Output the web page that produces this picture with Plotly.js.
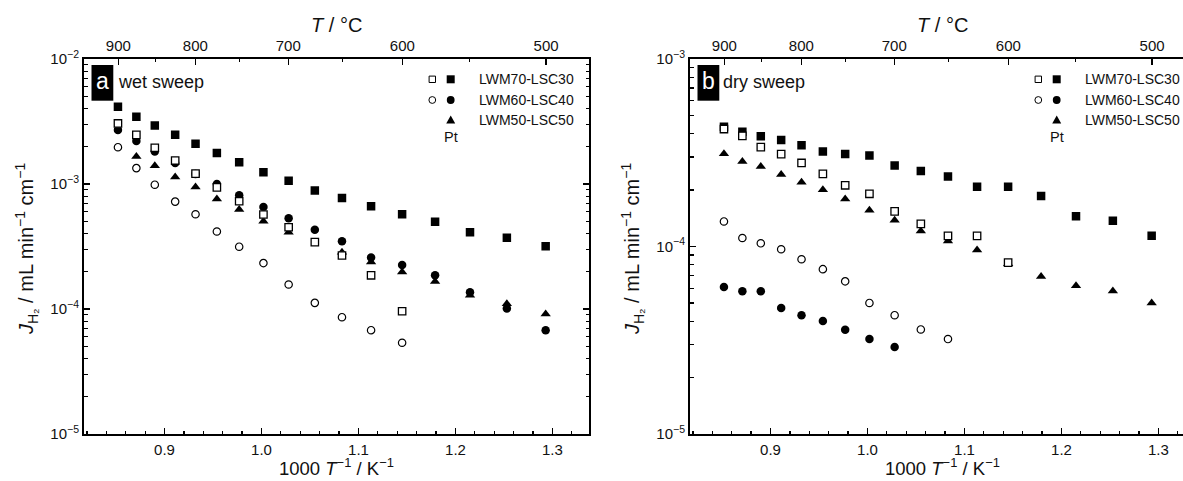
<!DOCTYPE html>
<html><head><meta charset="utf-8">
<script src="https://cdn.plot.ly/plotly-3.0.1.min.js"></script>
<style>html,body{margin:0;padding:0;overflow:hidden;background:#fff}#chart{width:1200px;height:481px}</style>
</head><body><div id="chart"></div><script>
// 1000/T (K^-1) of the measurement temperatures 900 ... 500 °C
const invT = [0.852, 0.871, 0.890, 0.911, 0.932, 0.954, 0.977, 1.002, 1.028, 1.055, 1.083, 1.113, 1.145, 1.179, 1.215, 1.253, 1.293];
const xTickVals = [0.9, 1.0, 1.1, 1.2, 1.3];
const tempLabels = [900, 800, 700, 600, 500];
const tempMinor = [850, 750, 650, 550];
const seriesNames = ['LWM70-LSC30', 'LWM60-LSC40', 'LWM50-LSC50'];

// (a) wet sweep
const wet70Filled = [4.14e-3, 3.45e-3, 2.94e-3, 2.48e-3, 2.10e-3, 1.77e-3, 1.49e-3, 1.24e-3, 1.06e-3, 8.89e-4, 7.74e-4, 6.64e-4, 5.73e-4, 4.99e-4, 4.12e-4, 3.72e-4, 3.17e-4];
const wet70Open = [3.05e-3, 2.47e-3, 1.95e-3, 1.54e-3, 1.21e-3, 9.40e-4, 7.28e-4, 5.70e-4, 4.51e-4, 3.43e-4, 2.68e-4, 1.86e-4, 9.59e-5];
const wet60Filled = [2.70e-3, 2.21e-3, 1.82e-3, 1.47e-3, 1.20e-3, 1.00e-3, 8.12e-4, 6.56e-4, 5.32e-4, 4.31e-4, 3.49e-4, 2.58e-4, 2.25e-4, 1.86e-4, 1.36e-4, 1.01e-4, 6.77e-5];
const wet60Open = [1.97e-3, 1.34e-3, 9.87e-4, 7.23e-4, 5.73e-4, 4.17e-4, 3.15e-4, 2.33e-4, 1.57e-4, 1.12e-4, 8.60e-5, 6.77e-5, 5.37e-5];
const wet50Pt = [null, 1.66e-3, 1.40e-3, 1.14e-3, 9.47e-4, 7.60e-4, 6.25e-4, 5.04e-4, 4.11e-4, null, 2.85e-4, 2.38e-4, 1.98e-4, 1.66e-4, 1.29e-4, 1.10e-4, 9.12e-5];

// (b) dry sweep
const dry70Filled = [4.35e-4, 4.09e-4, 3.87e-4, 3.70e-4, 3.47e-4, 3.21e-4, 3.11e-4, 3.06e-4, 2.70e-4, 2.53e-4, 2.36e-4, 2.08e-4, 2.08e-4, 1.86e-4, 1.45e-4, 1.37e-4, 1.14e-4];
const dry70Open = [4.23e-4, 3.89e-4, 3.39e-4, 3.11e-4, 2.79e-4, 2.44e-4, 2.12e-4, 1.91e-4, 1.54e-4, 1.32e-4, 1.14e-4, 1.14e-4, 8.20e-5];
const dry60Filled = [6.08e-5, 5.78e-5, 5.78e-5, 4.70e-5, 4.30e-5, 4.00e-5, 3.60e-5, 3.21e-5, 2.91e-5];
const dry60Open = [1.36e-4, 1.11e-4, 1.04e-4, 9.67e-5, 8.55e-5, 7.57e-5, 6.52e-5, 5.00e-5, 4.30e-5, 3.61e-5, 3.21e-5];
const dry50Pt = [3.12e-4, 2.84e-4, 2.67e-4, 2.42e-4, 2.20e-4, 2.01e-4, 1.79e-4, 1.56e-4, 1.38e-4, 1.21e-4, 1.07e-4, 9.57e-5, 8.10e-5, 6.92e-5, 6.18e-5, 5.79e-5, 5.00e-5];

const FONT = 'Liberation Sans, Arial, Helvetica, sans-serif';
const W = 1200, H = 481, MT = 59, MB = 47;
const PH = H - MT - MB;
const px = v => v / W;
const py = v => (H - MB - v) / PH;

const STY = {
  sqF: {symbol: 'square', size: 8.5, color: '#000', line: {width: 0}},
  sqO: {symbol: 'square', size: 7.4, color: '#fff', line: {color: '#000', width: 1.3}},
  ciF: {symbol: 'circle', size: 8.5, color: '#000', line: {width: 0}},
  ciO: {symbol: 'circle', size: 7.4, color: '#fff', line: {color: '#000', width: 1.2}},
  tri: {symbol: 'triangle-up', size: 9, color: '#000', line: {width: 0}}
};
function tr(y, sty, xa, ya, name) {
  return {x: invT.slice(0, y.length), y: y, type: 'scatter', mode: 'markers', marker: sty,
          xaxis: xa, yaxis: ya, name: name, showlegend: false, hoverinfo: 'x+y'};
}
// invisible companions so that the top (temperature) axes get drawn
function ghost(y, xa, ya) {
  return {x: invT.slice(0, y.length), y: y, type: 'scatter', mode: 'markers', marker: {opacity: 0, size: 1},
          xaxis: xa, yaxis: ya, showlegend: false, hoverinfo: 'skip'};
}
const data = [
  ghost(wet70Filled, 'x2', 'y'),
  ghost(dry70Filled, 'x4', 'y2'),
  tr(wet70Filled, STY.sqF, 'x', 'y', seriesNames[0]),
  tr(wet60Filled, STY.ciF, 'x', 'y', seriesNames[1]),
  tr(wet50Pt, STY.tri, 'x', 'y', seriesNames[2]),
  tr(wet70Open, STY.sqO, 'x', 'y', seriesNames[0]),
  tr(wet60Open, STY.ciO, 'x', 'y', seriesNames[1]),
  tr(dry70Filled, STY.sqF, 'x3', 'y2', seriesNames[0]),
  tr(dry60Filled, STY.ciF, 'x3', 'y2', seriesNames[1]),
  tr(dry50Pt, STY.tri, 'x3', 'y2', seriesNames[2]),
  tr(dry70Open, STY.sqO, 'x3', 'y2', seriesNames[0]),
  tr(dry60Open, STY.ciO, 'x3', 'y2', seriesNames[1])
];

const xRange = [0.817, 1.338];
const minorX = [];
for (let v = 0.82; v < 1.335; v += 0.02) minorX.push(+v.toFixed(2));
function logMinor(lo, hi) {
  const out = [];
  for (let e = lo; e < hi; e++) for (let m = 2; m <= 9; m++) out.push(m * Math.pow(10, e));
  return out;
}
const tempPos = t => 1000 / (t + 273.15);
const tickFont = {family: FONT, size: 15, color: '#111'};

function bottomAxis(dom, anchor) {
  return {domain: dom, anchor: anchor, range: xRange, autorange: false, showline: true, linewidth: 2, linecolor: '#000',
    mirror: false, ticks: 'inside', ticklen: 6, tickwidth: 1.2, tickcolor: '#000', tickmode: 'array',
    tickvals: xTickVals, ticktext: xTickVals.map(v => v.toFixed(1)), tickfont: tickFont, showgrid: false, zeroline: false,
    ticklabelstandoff: 1,
    minor: {tickmode: 'array', tickvals: minorX, ticks: 'inside', ticklen: 3, tickwidth: 1.2, tickcolor: '#000', showgrid: false}};
}
function topAxis(over, anchor, dom) {
  return {overlaying: over, anchor: anchor, side: 'top', domain: dom, range: xRange, autorange: false, showline: true, linewidth: 2, linecolor: '#000',
    ticks: 'inside', ticklen: 6, tickwidth: 1.2, tickcolor: '#000', tickmode: 'array',
    tickvals: tempLabels.map(tempPos), ticktext: tempLabels.map(String), tickfont: tickFont, showgrid: false, zeroline: false,
    minor: {tickmode: 'array', tickvals: tempMinor.map(tempPos), ticks: 'inside', ticklen: 3, tickwidth: 1.2, tickcolor: '#000', showgrid: false}};
}
function yAxis(anchor, lo, hi) {
  const vals = [], txt = [];
  for (let e = lo; e <= hi; e++) { vals.push(Math.pow(10, e)); txt.push('10<sup>\u2212' + (-e) + '</sup>'); }
  return {anchor: anchor, type: 'log', range: [lo, hi], autorange: false, domain: [0, 1], showline: true, linewidth: 2, linecolor: '#000',
    mirror: 'ticks', ticks: 'inside', ticklen: 6, tickwidth: 1.2, tickcolor: '#000', tickmode: 'array', tickvals: vals, ticktext: txt,
    tickfont: {family: FONT, size: 15, color: '#111'}, showgrid: false, zeroline: false,
    minor: {tickmode: 'array', tickvals: logMinor(lo, hi), ticks: 'inside', ticklen: 3.5, tickwidth: 1.2, tickcolor: '#000', showgrid: false}};
}

const L0 = 84, PW = 505.3, R0 = 690;
const domL = [px(L0), px(L0 + PW)], domR = [px(R0), px(R0 + PW)];
const layout = {
  width: W, height: H, margin: {l: 0, r: 0, t: MT, b: MB}, paper_bgcolor: '#fff', plot_bgcolor: '#fff',
  font: {family: FONT, color: '#111'}, showlegend: false,
  xaxis: bottomAxis(domL, 'y'),
  xaxis2: topAxis('x', 'y', domL),
  xaxis3: bottomAxis(domR, 'y2'),
  xaxis4: topAxis('x3', 'y2', domR),
  yaxis: yAxis('x', -5, -2),
  yaxis2: yAxis('x3', -5, -3),
  shapes: [], annotations: []
};

function ann(x, y, text, size, extra) {
  return Object.assign({xref: 'paper', yref: 'paper', x: px(x), y: py(y), text: text, showarrow: false,
    font: {family: FONT, size: size, color: '#111'}, xanchor: 'center', yanchor: 'middle'}, extra || {});
}
const panels = [
  {left: L0, letter: 'a', label: 'wet sweep'},
  {left: R0, letter: 'b', label: 'dry sweep'}
];
panels.forEach(p => {
  const cx = p.left + PW / 2;
  layout.annotations.push(ann(cx, 25, '<i>T</i> / \u00b0C', 20));
  layout.annotations.push(ann(cx, 467, '1000 <i>T</i><sup>\u22121</sup> / K<sup>\u22121</sup>', 18.5));
  layout.annotations.push(ann(p.left - 57, 249, '<i>J</i><sub>H\u2082</sub> / mL min<sup>\u22121</sup> cm<sup>\u22121</sup>', 20, {textangle: -90}));
  // panel tag
  layout.shapes.push({type: 'rect', xref: 'paper', yref: 'paper', x0: px(p.left + 7.5), x1: px(p.left + 29.3), y0: py(100.7), y1: py(65),
    fillcolor: '#000', line: {width: 0}});
  layout.annotations.push(ann(p.left + 18.4, 81, p.letter, 23, {font: {family: FONT, size: 23, color: '#fff'}}));
  layout.annotations.push(ann(p.left + 31.5, 82, p.label, 18, {xanchor: 'left'}));
  // legend
  const xo = p.left + 348.3, xf = p.left + 366.7, xt = p.left + 393.3;
  const rows = [79.3, 100, 120];
  layout.shapes.push({type: 'rect', xref: 'paper', yref: 'paper', x0: px(xo - 3.2), x1: px(xo + 3.2), y0: py(rows[0] + 3.2), y1: py(rows[0] - 3.2), fillcolor: '#fff', line: {color: '#000', width: 1}});
  layout.shapes.push({type: 'rect', xref: 'paper', yref: 'paper', x0: px(xf - 4), x1: px(xf + 4), y0: py(rows[0] + 4), y1: py(rows[0] - 4), fillcolor: '#000', line: {width: 0}});
  layout.shapes.push({type: 'circle', xref: 'paper', yref: 'paper', x0: px(xo - 3.4), x1: px(xo + 3.4), y0: py(rows[1] + 3.4), y1: py(rows[1] - 3.4), fillcolor: '#fff', line: {color: '#000', width: 1}});
  layout.shapes.push({type: 'circle', xref: 'paper', yref: 'paper', x0: px(xf - 3.9), x1: px(xf + 3.9), y0: py(rows[1] + 3.9), y1: py(rows[1] - 3.9), fillcolor: '#000', line: {width: 0}});
  layout.shapes.push({type: 'path', xref: 'paper', yref: 'paper',
    path: 'M' + px(xf - 4.5) + ',' + py(rows[2] + 3.5) + ' L' + px(xf + 4.5) + ',' + py(rows[2] + 3.5) + ' L' + px(xf) + ',' + py(rows[2] - 4.5) + ' Z',
    fillcolor: '#000', line: {width: 0}});
  seriesNames.forEach((n, i) => layout.annotations.push(ann(xt, rows[i], n, 14, {xanchor: 'left'})));
  layout.annotations.push(ann(xf, 137, 'Pt', 14.5));
});

Plotly.newPlot('chart', data, layout, {staticPlot: true});
</script></body></html>
